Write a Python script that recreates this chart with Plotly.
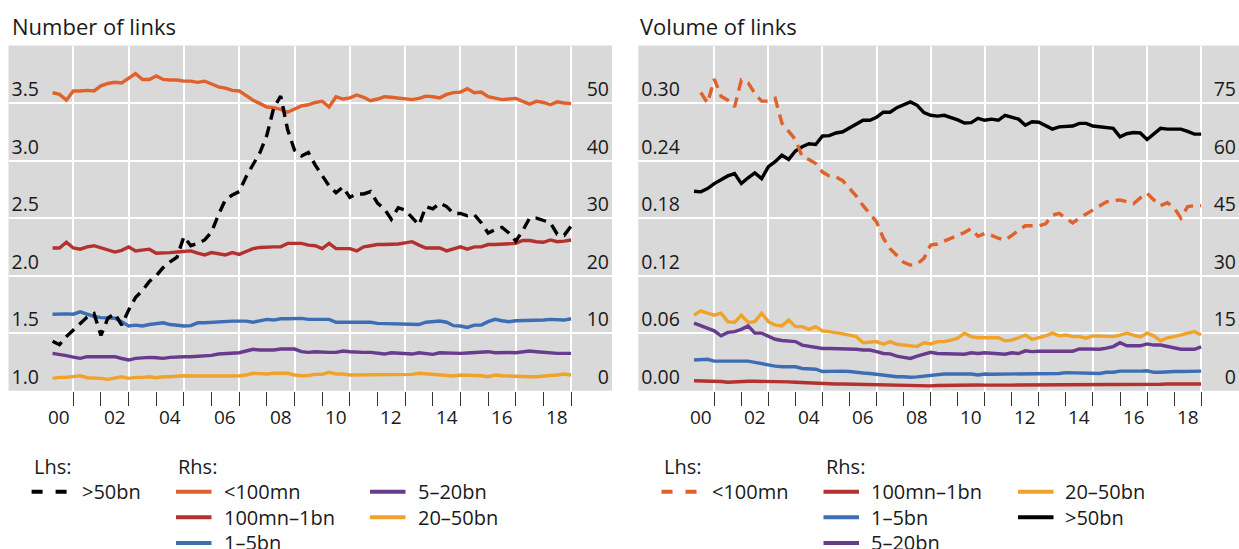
import plotly.graph_objects as go

# ---------------- data (quarterly, 2000Q1 - 2018Q4, plotted at quarter end) ----------------
quarters = [f"{y}Q{q}" for y in range(2000, 2019) for q in range(1, 5)]

# Number of links
num_gt50 = [1.43, 1.40, 1.47, 1.53, 1.59, 1.64, 1.67, 1.48, 1.63, 1.67, 1.57, 1.70, 1.81, 1.87, 1.95, 2.00,
            2.07, 2.12, 2.16, 2.34, 2.26, 2.28, 2.31, 2.38, 2.53, 2.66, 2.70, 2.73, 2.86, 2.96, 3.07, 3.22,
            3.46, 3.56, 3.27, 3.09, 3.04, 3.07, 2.96, 2.87, 2.78, 2.72, 2.77, 2.68, 2.71, 2.71, 2.73, 2.63,
            2.58, 2.49, 2.59, 2.57, 2.51, 2.44, 2.60, 2.58, 2.63, 2.60, 2.54, 2.54, 2.52, 2.53, 2.46, 2.37,
            2.40, 2.42, 2.37, 2.30, 2.39, 2.50, 2.50, 2.48, 2.46, 2.36, 2.35, 2.43]
num_lt100 = [51.8, 51.5, 50.5, 52.1, 52.1, 52.2, 52.1, 53.0, 53.4, 53.6, 53.5, 54.3, 55.1, 54.1, 54.1, 54.7,
             54.1, 54.0, 54.0, 53.8, 53.8, 53.6, 53.8, 53.3, 52.8, 52.6, 52.2, 52.1, 51.3, 50.5, 49.9, 49.3,
             49.2, 48.9, 48.4, 48.9, 49.5, 49.7, 50.1, 50.3, 49.3, 51.1, 50.7, 50.9, 51.4, 51.0, 50.4, 50.7,
             51.1, 51.0, 50.9, 50.8, 50.6, 50.8, 51.2, 51.1, 50.9, 51.5, 51.8, 51.9, 52.5, 51.8, 51.9, 51.1,
             50.8, 50.6, 50.7, 50.8, 50.3, 49.8, 50.3, 50.1, 49.7, 50.2, 50.0, 49.9]
num_100mn_1bn = [24.8, 24.8, 25.8, 24.8, 24.6, 25.0, 25.2, 24.8, 24.5, 24.1, 24.4, 25.0, 24.3, 24.5, 24.6, 23.9,
                 23.9, 24.0, 24.1, 24.2, 24.3, 23.9, 23.6, 24.0, 23.8, 23.6, 24.0, 23.7, 24.2, 24.7, 24.9, 25.0,
                 25.0, 25.0, 25.6, 25.6, 25.6, 25.3, 25.2, 24.7, 25.6, 24.7, 24.7, 24.7, 24.3, 25.0, 25.2, 25.4,
                 25.4, 25.4, 25.5, 25.7, 25.9, 25.3, 24.8, 24.8, 24.8, 24.3, 24.7, 25.0, 24.6, 25.0, 25.0, 25.4,
                 25.4, 25.5, 25.5, 25.6, 26.1, 26.1, 25.9, 25.8, 26.2, 25.9, 26.0, 26.2]
num_1_5bn = [13.3, 13.4, 13.35, 13.3, 13.7, 13.3, 12.9, 12.7, 12.6, 12.6, 12.0, 11.24, 11.4, 11.24, 11.5, 11.7,
             11.8, 11.5, 11.3, 11.24, 11.3, 11.8, 11.8, 11.9, 12.0, 12.0, 12.1, 12.1, 12.1, 11.9, 12.16, 12.4,
             12.28, 12.5, 12.5, 12.5, 12.57, 12.4, 12.4, 12.4, 12.4, 11.9, 11.9, 11.9, 11.9, 11.9, 11.9, 11.7,
             11.65, 11.6, 11.5, 11.5, 11.5, 11.5, 11.9, 12.0, 12.1, 11.9, 11.3, 11.24, 11.0, 11.4, 11.4, 12.0,
             12.4, 12.16, 12.0, 12.16, 12.16, 12.16, 12.28, 12.28, 12.4, 12.28, 12.28, 12.5]
num_5_20bn = [6.49, 6.35, 6.1, 5.85, 5.62, 5.91, 5.91, 5.91, 6.03, 5.91, 5.6, 5.33, 5.62, 5.7, 5.8, 5.73,
              5.62, 5.8, 5.91, 5.91, 5.91, 5.97, 6.03, 6.14, 6.37, 6.49, 6.55, 6.6, 6.9, 7.19, 7.07, 7.07,
              7.07, 7.24, 7.24, 7.24, 6.78, 6.66, 6.78, 6.66, 6.66, 6.66, 6.9, 6.78, 6.66, 6.66, 6.66, 6.5,
              6.37, 6.6, 6.55, 6.45, 6.37, 6.6, 6.45, 6.32, 6.6, 6.55, 6.49, 6.49, 6.55, 6.6, 6.7, 6.78,
              6.6, 6.66, 6.63, 6.6, 6.75, 6.9, 6.78, 6.66, 6.55, 6.49, 6.49, 6.49]
num_20_50bn = [2.15, 2.32, 2.32, 2.43, 2.6, 2.26, 2.26, 2.15, 1.97, 2.26, 2.43, 2.15, 2.32, 2.32, 2.43, 2.26,
               2.43, 2.43, 2.55, 2.6, 2.55, 2.55, 2.55, 2.55, 2.5, 2.43, 2.55, 2.6, 2.73, 3.02, 2.9, 2.9,
               3.02, 3.02, 3.02, 2.73, 2.6, 2.65, 2.84, 2.84, 3.19, 2.9, 2.9, 2.73, 2.73, 2.73, 2.73, 2.73,
               2.84, 2.84, 2.73, 2.84, 2.84, 3.02, 2.9, 2.9, 2.73, 2.65, 2.55, 2.73, 2.73, 2.73, 2.6, 2.43,
               2.73, 2.6, 2.55, 2.43, 2.43, 2.43, 2.43, 2.6, 2.65, 2.73, 2.9, 2.73]

# Volume of links
vol_lt100 = [None, 0.311, 0.300, 0.325, 0.307, 0.303, 0.296, 0.324, 0.321, 0.310, 0.302, 0.302, 0.305, 0.279,
             0.271, 0.262, 0.244, 0.241, 0.237, 0.228, 0.224, 0.223, 0.219, 0.211, 0.203, 0.193, 0.185, 0.176,
             0.159, 0.148, 0.141, 0.134, 0.131, 0.132, 0.138, 0.152, 0.153, 0.156, 0.159, 0.162, 0.165, 0.169,
             0.161, 0.164, 0.162, 0.159, 0.157, 0.162, 0.167, 0.172, 0.172, 0.172, 0.174, 0.183, 0.185, 0.180,
             0.175, 0.180, 0.184, 0.188, 0.193, 0.197, 0.198, 0.199, 0.197, 0.195, 0.201, 0.206, 0.199, 0.193,
             0.196, 0.191, 0.180, 0.192, 0.193, 0.193]
vol_100mn_1bn = [2.6, 2.6, 2.5, 2.5, 2.4, 2.2, 2.35, 2.4, 2.45, 2.45, 2.45, 2.45, 2.45, 2.4, 2.3, 2.2,
                 2.1, 2.0, 1.93, 1.85, 1.8, 1.75, 1.75, 1.7, 1.67, 1.6, 1.55, 1.5, 1.45, 1.4, 1.35, 1.3,
                 1.2, 1.15, 1.2, 1.25, 1.35, 1.4, 1.4, 1.4, 1.4, 1.45, 1.5, 1.45, 1.4, 1.4, 1.4, 1.45,
                 1.5, 1.5, 1.5, 1.5, 1.5, 1.55, 1.55, 1.58, 1.58, 1.58, 1.55, 1.5, 1.5, 1.5, 1.5, 1.5,
                 1.52, 1.55, 1.58, 1.6, 1.65, 1.7, 1.75, 1.75, 1.75, 1.72, 1.68, 1.75]
vol_1_5bn = [8.0, 8.1, 8.2, 7.7, 7.7, 7.7, 7.6, 7.65, 7.7, 7.4, 7.0, 6.7, 6.4, 6.25, 6.25, 6.25,
             5.8, 5.7, 5.6, 5.0, 5.1, 5.1, 5.1, 5.0, 4.7, 4.6, 4.5, 4.3, 4.0, 3.8, 3.65, 3.65,
             3.5, 3.6, 3.8, 4.1, 4.35, 4.35, 4.35, 4.35, 4.35, 4.35, 4.1, 4.35, 4.3, 4.3, 4.3, 4.3,
             4.35, 4.35, 4.35, 4.35, 4.35, 4.5, 4.5, 4.7, 4.7, 4.5, 4.5, 4.5, 4.5, 4.8, 4.8, 5.1,
             5.05, 5.0, 5.1, 5.2, 4.8, 4.8, 5.0, 5.0, 5.0, 5.05, 5.1, 5.1]
vol_5_20bn = [17.6, 16.9, 16.3, 15.6, 14.3, 15.2, 15.4, 16.0, 16.9, 15.0, 15.0, 14.1, 13.4, 13.1, 13.0, 12.8,
              11.9, 11.6, 11.5, 11.0, 11.0, 11.0, 10.8, 11.0, 10.8, 10.6, 10.6, 10.2, 9.7, 9.6, 9.0, 8.7,
              8.4, 9.0, 9.5, 10.0, 9.7, 9.7, 9.7, 9.7, 9.5, 9.9, 9.7, 9.9, 9.7, 9.7, 9.5, 9.9,
              9.7, 10.4, 10.2, 10.3, 10.3, 10.2, 10.2, 10.2, 10.3, 10.9, 10.9, 10.9, 10.8, 11.1, 11.5, 12.5,
              11.7, 11.7, 11.7, 12.2, 11.9, 11.9, 11.5, 11.1, 10.8, 10.8, 10.8, 11.4]
vol_20_50bn = [19.7, 20.8, 20.2, 19.7, 20.2, 18.0, 17.8, 19.7, 17.8, 18.0, 20.2, 18.0, 17.1, 16.9, 18.4, 16.7,
               16.7, 16.0, 16.7, 15.6, 15.4, 15.0, 14.8, 14.5, 14.1, 12.5, 12.6, 12.8, 12.1, 12.8, 12.1, 11.9,
               11.5, 11.5, 12.5, 12.2, 12.8, 12.8, 13.2, 13.7, 15.0, 14.1, 13.8, 13.8, 13.8, 13.8, 13.0, 13.2,
               13.8, 14.5, 13.4, 13.8, 14.3, 15.0, 14.3, 14.5, 14.1, 14.1, 13.7, 14.3, 14.3, 14.1, 14.1, 14.5,
               15.0, 14.5, 14.0, 15.0, 14.3, 13.0, 13.8, 14.1, 14.5, 15.0, 15.4, 14.5]
vol_gt50 = [52.0, 51.85, 52.7, 54.0, 55.0, 56.0, 56.6, 54.0, 55.5, 56.8, 55.3, 58.4, 59.7, 61.4, 60.3, 62.5,
            63.6, 64.4, 64.2, 66.4, 66.5, 67.2, 67.5, 68.5, 69.5, 70.5, 70.5, 71.3, 72.6, 72.6, 73.8, 74.5,
            75.3, 74.4, 72.5, 71.8, 71.6, 71.8, 71.3, 70.6, 69.8, 69.9, 71.0, 70.5, 70.8, 70.5, 71.8, 71.2,
            70.8, 69.2, 70.1, 70.0, 69.2, 68.2, 68.8, 69.0, 69.0, 69.7, 69.7, 69.0, 68.8, 68.6, 68.4, 66.2,
            67.0, 67.3, 67.2, 65.5, 67.0, 68.4, 68.2, 68.1, 68.2, 67.6, 66.9, 66.9]

# axis ticks / labels
lhs_num_ticks = [1.0, 1.5, 2.0, 2.5, 3.0, 3.5]
rhs_num_ticks = [0, 10, 20, 30, 40, 50]
lhs_vol_ticks = [0.00, 0.06, 0.12, 0.18, 0.24, 0.30]
rhs_vol_ticks = [0, 15, 30, 45, 60, 75]
year_labels = ["00", "02", "04", "06", "08", "10", "12", "14", "16", "18"]

# ---------------- styles ----------------
ORANGE, RED, BLUE, PURPLE, YELLOW, BLACK = "#e0612b", "#b3322f", "#3d6eb5", "#683b8d", "#f0a32a", "#000000"
FONT = "Open Sans"
TXT = "#1a1a1a"
W, H = 1239, 549
LW = 3.4


def px(sx):
    return sx / W


def py(sy):
    return 1 - sy / H


def qend(label):
    y, q = label.split("Q")
    return int(y) + int(q) / 4.0


xq = [qend(s) for s in quarters]

left_series = [
    dict(name="<100mn", v=num_lt100, c=ORANGE, side="rhs", dash="solid"),
    dict(name="100mn–1bn", v=num_100mn_1bn, c=RED, side="rhs", dash="solid"),
    dict(name="1–5bn", v=num_1_5bn, c=BLUE, side="rhs", dash="solid"),
    dict(name="5–20bn", v=num_5_20bn, c=PURPLE, side="rhs", dash="solid"),
    dict(name="20–50bn", v=num_20_50bn, c=YELLOW, side="rhs", dash="solid"),
    dict(name=">50bn", v=num_gt50, c=BLACK, side="lhs", dash="11px,7px"),
]
right_series = [
    dict(name="100mn–1bn", v=vol_100mn_1bn, c=RED, side="rhs", dash="solid"),
    dict(name="1–5bn", v=vol_1_5bn, c=BLUE, side="rhs", dash="solid"),
    dict(name="5–20bn", v=vol_5_20bn, c=PURPLE, side="rhs", dash="solid"),
    dict(name="20–50bn", v=vol_20_50bn, c=YELLOW, side="rhs", dash="solid"),
    dict(name=">50bn", v=vol_gt50, c=BLACK, side="rhs", dash="solid"),
    dict(name="<100mn", v=vol_lt100, c=ORANGE, side="lhs", dash="11px,7px"),
]

fig = go.Figure()
for s in left_series:
    fig.add_trace(go.Scatter(x=xq, y=s["v"], mode="lines", name=s["name"], showlegend=False,
                             hoverinfo="skip", xaxis="x", yaxis="y" if s["side"] == "rhs" else "y2",
                             line=dict(color=s["c"], width=LW, dash=s["dash"])))
for s in right_series:
    fig.add_trace(go.Scatter(x=xq, y=s["v"], mode="lines", name=s["name"], showlegend=False,
                             hoverinfo="skip", xaxis="x2", yaxis="y3" if s["side"] == "rhs" else "y4",
                             line=dict(color=s["c"], width=LW, dash=s["dash"])))

ydom = [py(390.7), py(45.5)]
odd_years = list(range(2001, 2020, 2))
even_years = list(range(2002, 2019, 2))


def xaxis(domain, rng, anchor):
    return dict(domain=domain, range=rng, anchor=anchor, showline=False, zeroline=False,
                tickmode="array", tickvals=odd_years, showticklabels=False,
                ticks="outside", ticklen=14, tickwidth=1.3, tickcolor="#333333",
                showgrid=True, gridcolor="white", gridwidth=1.6,
                minor=dict(tickmode="array", tickvals=even_years, ticks="outside", ticklen=14,
                           tickwidth=1.3, tickcolor="#333333", showgrid=False),
                fixedrange=True)


def yaxis(rng, ticks, text, side, anchor, base=True, overlay=None):
    d = dict(range=rng, anchor=anchor, side=side, tickmode="array", tickvals=ticks, ticktext=text,
             ticks="", showline=False, zeroline=False, ticklabelposition="inside top",
             ticklabelstandoff=0,
             tickfont=dict(family=FONT, size=19.5, color=TXT), fixedrange=True)
    if base:
        d.update(domain=ydom, showgrid=True, gridcolor="white", gridwidth=1.6)
    else:
        d.update(overlaying=overlay, showgrid=False)
    return d


fig.update_layout(
    width=W, height=H, margin=dict(l=0, r=0, t=0, b=0),
    paper_bgcolor="white", plot_bgcolor="#d9d9d9",
    xaxis=xaxis([px(8.5), px(612)], [1998.657, 2020.48], "y"),
    xaxis2=xaxis([px(638.3), 1.0], [1998.19, 2020.40], "y3"),
    yaxis=yaxis([0, 60], rhs_num_ticks, [str(t) for t in rhs_num_ticks], "right", "x"),
    yaxis2=yaxis([1, 4], lhs_num_ticks, [f"{t:.1f}" for t in lhs_num_ticks], "left", "x", False, "y"),
    yaxis3=yaxis([0, 90], rhs_vol_ticks, [str(t) for t in rhs_vol_ticks], "right", "x2"),
    yaxis4=yaxis([0, 0.36], lhs_vol_ticks, [f"{t:.2f}" for t in lhs_vol_ticks], "left", "x2", False, "y3"),
    showlegend=False,
)

ann = []
shapes = []
# titles
for title, sx in [("Number of links", 10), ("Volume of links", 638)]:
    ann.append(dict(text=title, x=px(sx), y=py(26), xref="paper", yref="paper",
                    xanchor="left", yanchor="middle", showarrow=False,
                    font=dict(family=FONT, size=22, color=TXT)))
# year labels centred in the year
for xr in ["x", "x2"]:
    for lab in year_labels:
        yr = 2000 + int(lab)
        ann.append(dict(text=lab, x=yr + 0.5, y=py(416.5), xref=xr, yref="paper", xanchor="center",
                        yanchor="middle", showarrow=False, font=dict(family=FONT, size=19, color=TXT)))

# legends (built from the series lists)
HEAD_Y, ROWS_Y = 466.7, [491.7, 517.3, 542.9]
LFONT = dict(family=FONT, size=20, color=TXT)


def legend(series, lhs_x, rhs_cols, gap_l, gap_r):
    lhs = [s for s in series if s["side"] == "lhs"]
    rhs = [s for s in series if s["side"] == "rhs"]
    ann.append(dict(text="Lhs:", x=px(lhs_x), y=py(HEAD_Y), xref="paper", yref="paper",
                    xanchor="left", yanchor="middle", showarrow=False, font=LFONT))
    ann.append(dict(text="Rhs:", x=px(rhs_cols[0]), y=py(HEAD_Y), xref="paper", yref="paper",
                    xanchor="left", yanchor="middle", showarrow=False, font=LFONT))
    items = [(lhs_x, ROWS_Y[i], s, gap_l) for i, s in enumerate(lhs)]
    for k, s in enumerate(rhs):
        items.append((rhs_cols[k // 3], ROWS_Y[k % 3], s, gap_r))
    for x0, yy, s, gap in items:
        dash = "11px,13px" if s["dash"] != "solid" else "solid"
        shapes.append(dict(type="line", xref="paper", yref="paper", x0=px(x0), x1=px(x0 + 35.5),
                           y0=py(yy), y1=py(yy), line=dict(color=s["c"], width=4, dash=dash)))
        ann.append(dict(text=s["name"], x=px(x0 + 35.5 + gap), y=py(yy), xref="paper", yref="paper",
                        xanchor="left", yanchor="middle", showarrow=False, font=LFONT))


legend(left_series, 31.6, [176, 370], 12.5, 10.5)
legend(right_series, 661.5, [823.5, 1018], 12.5, 9.5)

fig.update_layout(annotations=ann, shapes=shapes)
# remove the browser's default 8px page margin so the figure fills the window exactly
fig.write_html("out.html", config={"displayModeBar": False},
               post_script="document.body.style.margin='0px';document.body.style.overflow='hidden';")
